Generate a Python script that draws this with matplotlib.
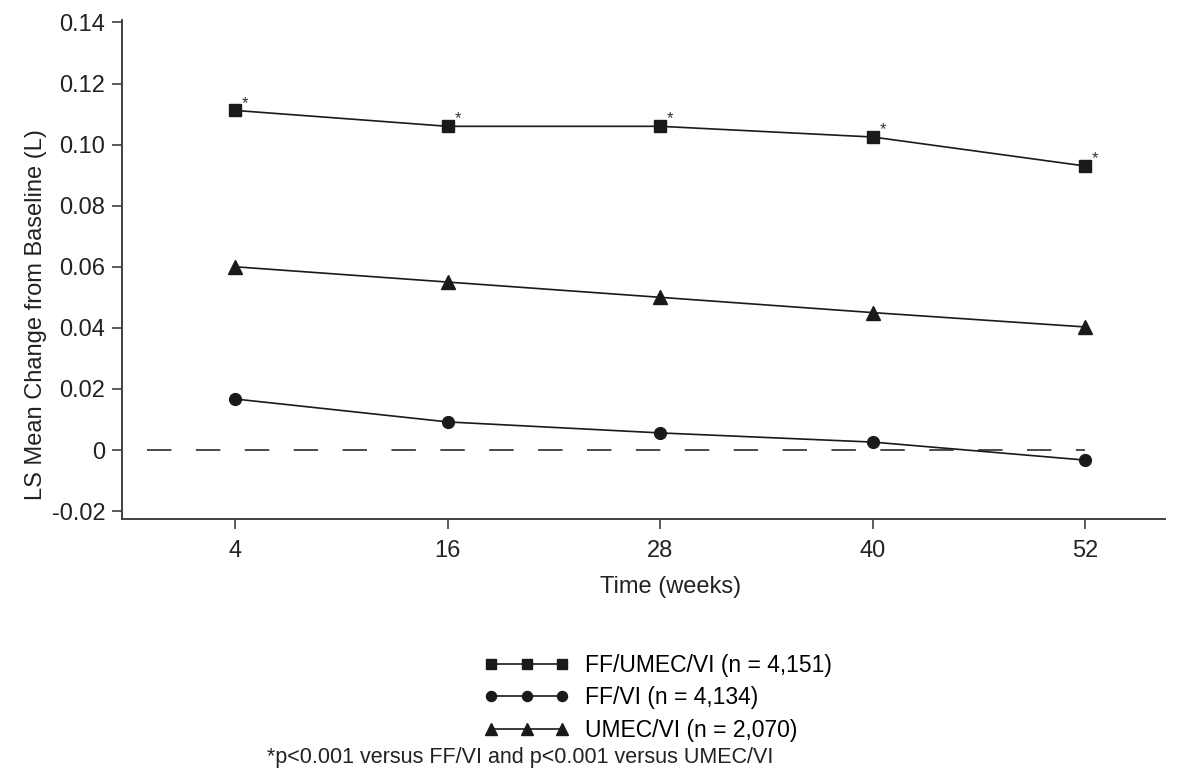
import matplotlib
matplotlib.use("Agg")
import matplotlib.pyplot as plt
import numpy as np

plt.rcParams['font.family'] = ['Liberation Sans', 'DejaVu Sans']

# Data
weeks = [4, 16, 28, 40, 52]
ff_umec_vi = [0.1112, 0.1060, 0.1060, 0.1025, 0.0930]
ff_vi = [0.0167, 0.0092, 0.0056, 0.0026, -0.0033]
umec_vi = [0.0600, 0.0550, 0.0500, 0.0450, 0.0403]
y_ticks = [-0.02, 0, 0.02, 0.04, 0.06, 0.08, 0.10, 0.12, 0.14]
y_tick_labels = ["-0.02", "0", "0.02", "0.04", "0.06", "0.08", "0.10", "0.12", "0.14"]
labels = ["FF/UMEC/VI (n = 4,151)", "FF/VI (n = 4,134)", "UMEC/VI (n = 2,070)"]

ink = "#1a1a1a"
spine_col = "#404040"
txt_col = "#222222"

fig = plt.figure(figsize=(11.92, 7.71), dpi=100)
ax = fig.add_axes([0.1023, 0.3268, 0.8750, 0.6472])

# Zero reference line
ax.plot([-1, 52], [0, 0], color=ink, lw=1.1, dashes=(16, 16))

l1, = ax.plot(weeks, ff_umec_vi, color=ink, lw=1.2, marker="s", ms=8.5, label=labels[0])
l2, = ax.plot(weeks, ff_vi, color=ink, lw=1.2, marker="o", ms=8.5, label=labels[1])
l3, = ax.plot(weeks, umec_vi, color=ink, lw=1.2, marker="^", ms=10, label=labels[2])

# Significance markers
for w, v in zip(weeks, ff_umec_vi):
    ax.annotate("*", xy=(w, v), xytext=(5, 2), textcoords="offset points",
                fontsize=12, color="#333333")

ax.set_xlim(-2.4, 56.5)
ax.set_ylim(-0.0226, 0.1408)
ax.set_xticks(weeks)
ax.set_yticks(y_ticks)
ax.set_yticklabels(y_tick_labels)
ax.tick_params(axis="both", labelsize=17, length=7, width=1.2, color=spine_col,
               labelcolor=txt_col)
ax.tick_params(axis="x", pad=8)
ax.tick_params(axis="y", pad=5)

for side in ["top", "right"]:
    ax.spines[side].set_visible(False)
for side in ["left", "bottom"]:
    ax.spines[side].set_color(spine_col)
    ax.spines[side].set_linewidth(1.4)

ax.set_xlabel("Time (weeks)", fontsize=17, color=txt_col, labelpad=10)
ax.xaxis.set_label_coords(0.526, -0.115)
ax.set_ylabel("LS Mean Change from Baseline (L)", fontsize=17, color=txt_col)
ax.yaxis.set_label_coords(-0.072, 0.41)

fig.legend(handles=[l1, l2, l3], labels=labels, loc="upper left",
           bbox_to_anchor=(0.389, 0.179), frameon=False, fontsize=16.5,
           numpoints=3, handlelength=3.7, handletextpad=0.7, labelspacing=0.42,
           markerscale=0.85)

fig.text(0.436, 0.004, "*p<0.001 versus FF/VI and p<0.001 versus UMEC/VI",
         ha="center", va="bottom", fontsize=15.5, color=txt_col)

fig.savefig("out.png", dpi=100)
